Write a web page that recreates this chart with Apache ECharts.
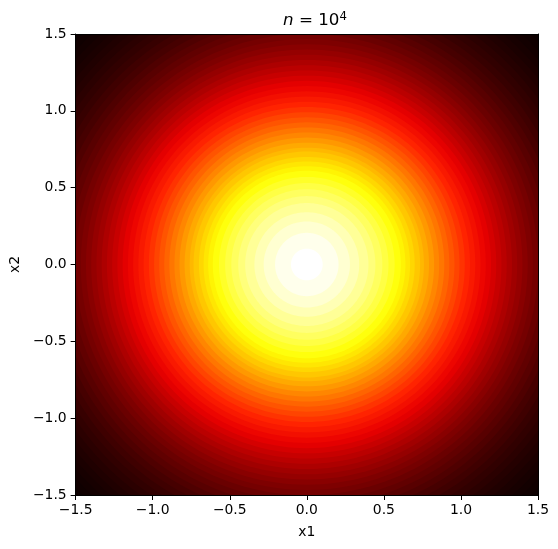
<!DOCTYPE html>
<html>
<head>
<meta charset="utf-8">
<script src="https://cdn.jsdelivr.net/npm/echarts@6/dist/echarts.min.js"></script>
<style>
html, body { margin: 0; padding: 0; background: #fff; }
#main { width: 558px; height: 549px; }
</style>
</head>
<body>
<div id="main"></div>
<script>
// contour bands, centre outwards: outer radius of each band (data units)
var bandRadius = [0.103, 0.206, 0.28, 0.34, 0.40, 0.445, 0.49, 0.53, 0.57, 0.61,
    0.64, 0.67, 0.70, 0.735, 0.76, 0.793, 0.826, 0.859, 0.892, 0.925,
    0.958, 0.991, 1.025, 1.059, 1.093, 1.127, 1.161, 1.195, 1.229, 1.263,
    1.297, 1.331, 1.365, 1.399, 1.433, 1.467, 1.501, 1.538, 1.575, 1.613,
    1.651, 1.690, 1.729, 1.768, 1.808, 1.848, 1.888, 1.928, 1.968, 2.008,
    2.048, 2.088, 2.13];
// density level of each band (1 = peak)
var bandLevel = [1.0, 0.982, 0.956, 0.929, 0.900, 0.872, 0.845, 0.819, 0.792, 0.765,
    0.740, 0.719, 0.697, 0.673, 0.651, 0.629, 0.604, 0.579, 0.555, 0.530,
    0.506, 0.482, 0.458, 0.434, 0.410, 0.388, 0.365, 0.344, 0.323, 0.303,
    0.284, 0.265, 0.247, 0.230, 0.214, 0.198, 0.184, 0.169, 0.155, 0.142,
    0.129, 0.117, 0.106, 0.0952, 0.0855, 0.0765, 0.0683, 0.0608, 0.0540, 0.0478,
    0.0423, 0.0373, 0.0327];
var xTicks = [-1.5, -1.0, -0.5, 0.0, 0.5, 1.0, 1.5];
var yTicks = [-1.5, -1.0, -0.5, 0.0, 0.5, 1.0, 1.5];

// matplotlib "hot" colormap sampled at 13 even stops
var hotColors = ['#0b0000', '#420000', '#7a0000', '#b20000', '#ea0000', '#ff2300',
    '#ff5a00', '#ff9200', '#ffca00', '#ffff04', '#ffff58', '#ffffab', '#ffffff'];

var FONT = 'DejaVu Sans';

var dom = document.getElementById('main');
var myChart = echarts.init(dom);

// outer bands first so the inner ones are painted over them
var data = [];
for (var i = bandRadius.length - 1; i >= 0; i--) {
    data.push([bandRadius[i], bandLevel[i]]);
}

function fmt(v) {
    return v.toFixed(1).replace('-', '\u2212');
}

var axisLine = { show: true, onZero: false, lineStyle: { color: '#000', width: 1 } };

option = {
    animation: false,
    backgroundColor: '#fff',
    title: {
        text: '{i|n} = 10{s|4}',
        left: 278,
        top: 6,
        textStyle: {
            fontFamily: FONT,
            fontSize: 16.7,
            fontWeight: 'normal',
            color: '#000',
            rich: {
                i: { fontFamily: FONT, fontSize: 16.7, fontStyle: 'italic', color: '#000' },
                s: { fontFamily: FONT, fontSize: 11.7, color: '#000', padding: [0, 0, 7, 0] }
            }
        }
    },
    grid: { left: 73, right: 20, top: 34, bottom: 54 },
    visualMap: {
        show: false,
        type: 'continuous',
        min: 0.03,
        max: 1,
        dimension: 1,
        seriesIndex: 0,
        inRange: { color: hotColors }
    },
    xAxis: [{
        type: 'value',
        min: xTicks[0],
        max: xTicks[xTicks.length - 1],
        interval: 0.5,
        z: 10,
        axisLine: axisLine,
        axisTick: { show: true, inside: false, length: 5, lineStyle: { color: '#000', width: 1 } },
        axisLabel: { color: '#000', fontFamily: FONT, fontSize: 13.9, margin: 8, formatter: fmt },
        splitLine: { show: false },
        name: 'x1',
        nameLocation: 'middle',
        nameGap: 30,
        nameTextStyle: { color: '#000', fontFamily: FONT, fontSize: 13.9 }
    }, {
        type: 'value',
        position: 'top',
        min: xTicks[0],
        max: xTicks[xTicks.length - 1],
        z: 10,
        axisLine: axisLine,
        axisTick: { show: false },
        axisLabel: { show: false },
        splitLine: { show: false }
    }],
    yAxis: [{
        type: 'value',
        min: yTicks[0],
        max: yTicks[yTicks.length - 1],
        interval: 0.5,
        z: 10,
        axisLine: axisLine,
        axisTick: { show: true, inside: false, length: 5, lineStyle: { color: '#000', width: 1 } },
        axisLabel: { color: '#000', fontFamily: FONT, fontSize: 13.9, margin: 9, formatter: fmt },
        splitLine: { show: false },
        name: 'x2',
        nameLocation: 'middle',
        nameGap: 50,
        nameTextStyle: { color: '#000', fontFamily: FONT, fontSize: 13.9 }
    }, {
        type: 'value',
        position: 'right',
        min: yTicks[0],
        max: yTicks[yTicks.length - 1],
        z: 10,
        axisLine: axisLine,
        axisTick: { show: false },
        axisLabel: { show: false },
        splitLine: { show: false }
    }],
    series: [{
        type: 'custom',
        clip: true,
        xAxisIndex: 0,
        yAxisIndex: 0,
        dimensions: ['radius', 'level'],
        encode: { x: 0, y: 0 },
        renderItem: function (params, api) {
            var r = api.value(0);
            var pts = [];
            for (var k = 0; k < 180; k++) {
                var t = k / 180 * Math.PI * 2;
                pts.push(api.coord([r * Math.cos(t), r * Math.sin(t)]));
            }
            return {
                type: 'polygon',
                shape: { points: pts },
                style: { fill: api.visual('color'), stroke: null }
            };
        },
        data: data
    }]
};

if (option && typeof option === "object") {
    myChart.setOption(option, true);
}
</script>
</body>
</html>
